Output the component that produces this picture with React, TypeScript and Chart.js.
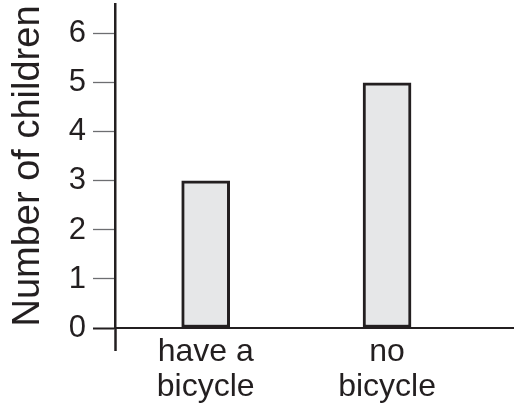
import React, { useEffect, useRef } from 'react';
import { Chart, registerables } from 'chart.js';

Chart.register(...registerables);

const categories: string[][] = [["have a", "bicycle"], ["no", "bicycle"]];
const categoryPositions: number[] = [0, 1];
const childrenCounts: number[] = [3, 5];
const yTickValues: number[] = [0, 1, 2, 3, 4, 5, 6];
const yAxisTitle = "Number of children";

export default function App() {
  const ref = useRef<HTMLCanvasElement>(null);

  useEffect(() => {
    const ink = '#231f20';
    const family = "'Liberation Sans', Arial, Helvetica, sans-serif";
    const chart = new Chart(ref.current as HTMLCanvasElement, {
      type: 'bar',
      data: {
        datasets: [
          {
            data: categoryPositions.map((x, i) => ({ x, y: childrenCounts[i] })),
            backgroundColor: '#e6e7e8',
            borderColor: ink,
            borderWidth: 3,
            borderSkipped: false,
            barThickness: 48,
          } as any,
        ],
      },
      options: {
        animation: false,
        responsive: false,
        devicePixelRatio: 1,
        layout: { padding: { top: 4, left: 0, right: 0, bottom: 0 } },
        plugins: { legend: { display: false }, tooltip: { enabled: false } },
        scales: {
          x: {
            type: 'linear',
            min: -0.5,
            max: 1.7,
            offset: false,
            afterBuildTicks: (s: any) => {
              s.ticks = [{ value: -0.5 }, ...categoryPositions.map((v) => ({ value: v }))];
            },
            afterFit: (s: any) => {
              s.height = 84;
              s.paddingLeft = 0;
              s.paddingRight = 0;
            },
            grid: {
              display: true,
              offset: false,
              drawOnChartArea: false,
              drawTicks: true,
              tickLength: 23,
              tickColor: (c: any) => (c.tick && c.tick.value === -0.5 ? ink : 'rgba(0,0,0,0)'),
              tickWidth: 2.5,
            },
            border: { display: true, color: ink, width: 2 },
            ticks: {
              callback: (v: any) => {
                const i = categoryPositions.indexOf(Number(v));
                return i >= 0 ? categories[i] : '';
              },
              color: ink,
              font: { family, size: 32, lineHeight: 1.08 },
              padding: -16,
              maxRotation: 0,
              autoSkip: false,
            },
          } as any,
          y: {
            min: 0,
            max: 6.61,
            afterBuildTicks: (s: any) => {
              s.ticks = yTickValues.map((v) => ({ value: v }));
            },
            afterFit: (s: any) => {
              s.width = 115;
              s.paddingTop = 0;
              s.paddingBottom = 0;
            },
            grid: {
              display: true,
              drawOnChartArea: false,
              drawTicks: true,
              tickLength: 22,
              tickColor: (c: any) => (c.tick && c.tick.value === 0 ? ink : '#6d6e71'),
              tickWidth: (c: any) => (c.tick && c.tick.value === 0 ? 2 : 1.3),
            },
            border: { display: true, color: ink, width: 2.5 },
            ticks: { color: ink, font: { family, size: 31 }, padding: 7 },
            title: {
              display: true,
              text: yAxisTitle,
              color: ink,
              font: { family, size: 38 },
              padding: { top: 6, bottom: 0 },
            },
          } as any,
        },
      },
    });
    return () => chart.destroy();
  }, []);

  return (
    <div style={{ position: 'absolute', left: 0, top: 0, width: 514, height: 412, background: '#fff' }}>
      <canvas ref={ref} width={514} height={412} style={{ display: 'block', width: 514, height: 412 }} />
    </div>
  );
}
